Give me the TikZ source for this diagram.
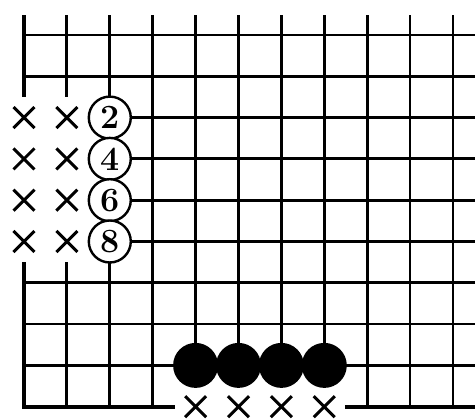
\documentclass[tikz,border=0pt]{standalone}
\usetikzlibrary{shapes.misc}
\tikzset{gridline/.style={line width=2.8pt},edgeline/.style={line width=4.2pt},blackstone/.style={circle,fill=black,minimum size=45pt,inner sep=0pt},numstone/.style={circle,draw,fill=white,line width=2.4pt,minimum size=42pt,inner sep=0pt,font=\fontsize{34}{34}\selectfont\bfseries},xmark/.style={cross out,draw,line width=3pt,minimum size=18pt,inner sep=0pt}}

\begin{document}
\begin{tikzpicture}[x=42.9pt,y=-41.3pt]
\useasboundingbox (-0.559,-0.847) rectangle (10.513,9.274);
% grid
\foreach \r in {0,1,6,7,8} \draw[gridline] (0,\r) -- (10.513,\r);
\foreach \r in {2,...,5} \draw[gridline] (2,\r) -- (10.513,\r);
\draw[gridline] (1,-0.48) -- (1,1.5) (1,5.5) -- (1,9);
\foreach \c in {2,3,8,9,10} \draw[gridline] (\c,-0.48) -- (\c,9);
\foreach \c in {4,...,7} \draw[gridline] (\c,-0.48) -- (\c,8);
% edges
\draw[edgeline] (0,-0.48) -- (0,1.5);
\draw[edgeline] (0,5.5) -- (0,9) -- (3.52,9);
\draw[edgeline] (7.48,9) -- (10.513,9);
% stones
\foreach \r/\k in {2/2,3/4,4/6,5/8} {
  \node[xmark] (xa\k) at (0,\r) {};
  \node[xmark] (xb\k) at (1,\r) {};
  \node[numstone] (w\k) at (2,\r) {\k};
}
\foreach \c [count=\n] in {4,...,7} {
  \node[blackstone] (s\n) at (\c,8) {};
  \node[xmark] (xc\n) at (\c,9) {};
}
\end{tikzpicture}
\end{document}
